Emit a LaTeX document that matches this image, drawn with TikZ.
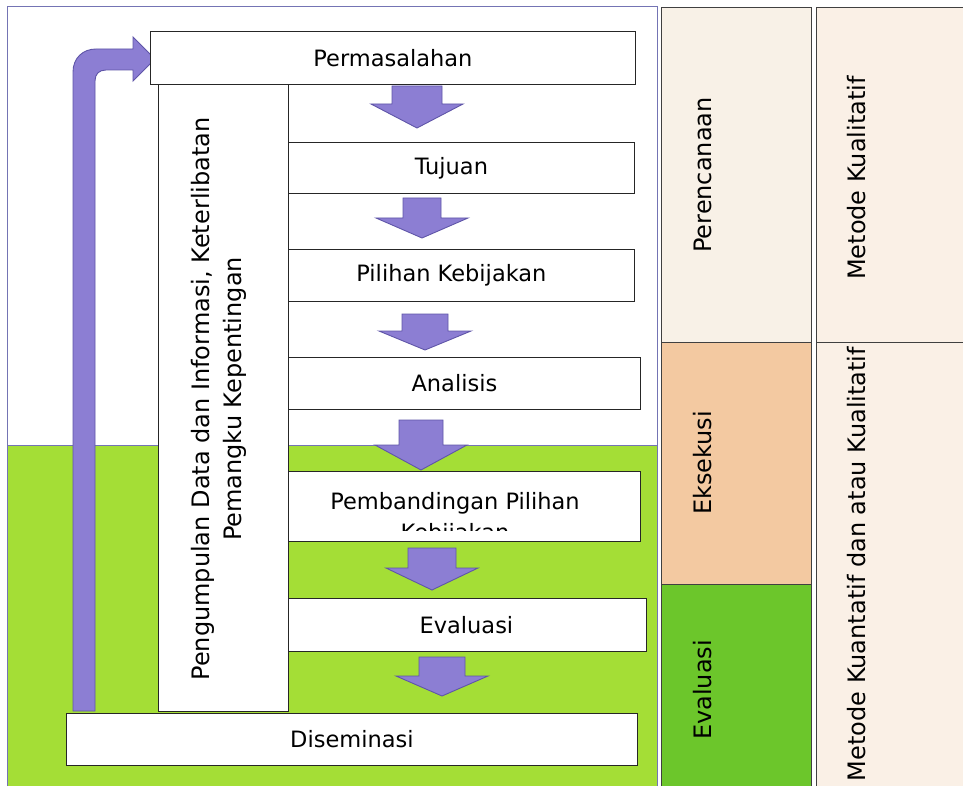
\documentclass[tikz,border=0pt]{standalone}
\usepackage{fontspec}
\setmainfont{DejaVu Sans}
\newcommand\fs{\fontsize{22.5}{31}\selectfont}
\newcommand\fsr{\fontsize{24}{32}\selectfont}
\definecolor{frameblue}{HTML}{7474B4}
\definecolor{lime}{HTML}{A4DE36}
\definecolor{arrowfill}{HTML}{8C7ED3}
\definecolor{arrowline}{HTML}{5F55A8}
\definecolor{cream}{HTML}{F8F1E7}
\definecolor{peach}{HTML}{F3C9A1}
\definecolor{evalgreen}{HTML}{6CC62B}
\definecolor{cream2}{HTML}{FAF0E6}
\newcommand\darr[5]{\draw[blockarrow] (#1-#4,#2) -- (#1+#4,#2) -- (#1+#4,#3-#5) -- (#1+46,#3-#5) -- (#1,#3) -- (#1-46,#3-#5) -- (#1-#4,#3-#5) -- cycle;}
\begin{document}
\begin{tikzpicture}[x=1pt,y=-1pt,
  box/.style={draw=black!85, line width=0.8pt, fill=white, inner sep=0pt, font=\fs, anchor=north west},
  colbox/.style={draw=black!75, line width=0.8pt, inner sep=0pt, anchor=north west},
  lbl/.style={font=\fsr, inner sep=0pt, rotate=90, align=center},
  blockarrow/.style={fill=arrowfill, draw=arrowline, line width=0.9pt, line join=miter}]
\useasboundingbox (0,0) rectangle (963,786);
\fill[white] (0,0) rectangle (963,786);
% frame
\draw[frameblue, line width=1pt, fill=white] (7,7) rectangle (657,445);
\draw[frameblue, line width=1pt, fill=lime] (7,445) rectangle (657,790);
% right columns
\node[colbox, fill=cream, minimum width=150pt, minimum height=335pt] (perenc) at (661,7) {};
\node[colbox, fill=peach, minimum width=150pt, minimum height=242pt] (eks) at (661,342) {};
\node[colbox, fill=evalgreen, minimum width=150pt, minimum height=215pt] (evl) at (661,584) {};
\node[colbox, fill=cream2, minimum width=160pt, minimum height=335pt] (mk) at (816,7) {};
\node[colbox, fill=cream2, minimum width=160pt, minimum height=460pt] (mkk) at (816,342) {};
\node[lbl] (perencT) at (703,175) {Perencanaan};
\node[lbl] (eksT) at (703,463) {Eksekusi};
\node[lbl] (evlT) at (703,690) {Evaluasi};
\node[lbl] (mkT) at (857,178) {Metode Kualitatif};
\node[lbl] (mkkT) at (857,564) {Metode Kuantatif dan atau Kualitatif};
% down arrows
\darr{417}{86}{128}{25}{24}
\darr{422}{198}{238}{19}{20}
\darr{425}{314}{350}{23}{19}
\darr{421}{420}{470}{22}{25}
\darr{432}{548}{590}{24}{22}
\darr{442}{657}{696}{23}{20}
% loop arrow
\draw[blockarrow] (73,711) -- (73,72) .. controls (73,58) and (83,49) .. (96,49) -- (133,49) -- (133,37) -- (155,59) -- (133,81) -- (133,70) -- (106,70) .. controls (99,70) and (95,74) .. (95,81) -- (95,711) -- cycle;
% boxes
\node[box, minimum width=485pt, minimum height=53pt] (perm) at (150,31) {Permasalahan};
\node[box, minimum width=366pt, minimum height=51pt] (tuj) at (268,142) {Tujuan};
\node[box, minimum width=366pt, minimum height=52pt] (pil) at (268,249) {Pilihan Kebijakan};
\node[box, minimum width=372pt, minimum height=52pt] (ana) at (268,357) {Analisis};
\node[box, minimum width=372pt, minimum height=70pt] (pemb) at (268,471) {};
\begin{scope}
\clip (269,472) rectangle (639,530);
\node[font=\fs, anchor=base, inner sep=0pt] (pembT1) at (455,509) {Pembandingan Pilihan};
\node[font=\fs, anchor=base, inner sep=0pt] (pembT2) at (455,540) {Kebijakan};
\end{scope}
\node[box, minimum width=360pt, minimum height=53pt] (eval) at (286,598) {Evaluasi};
\node[box, minimum width=571pt, minimum height=52pt] (dis) at (66,713) {Diseminasi};
\node[box, minimum width=130pt, minimum height=627pt] (peng) at (158,84) {};
\node[lbl] (pengT) at (219,399) {Pengumpulan Data dan Informasi, Keterlibatan\\Pemangku Kepentingan};
\end{tikzpicture}
\end{document}
